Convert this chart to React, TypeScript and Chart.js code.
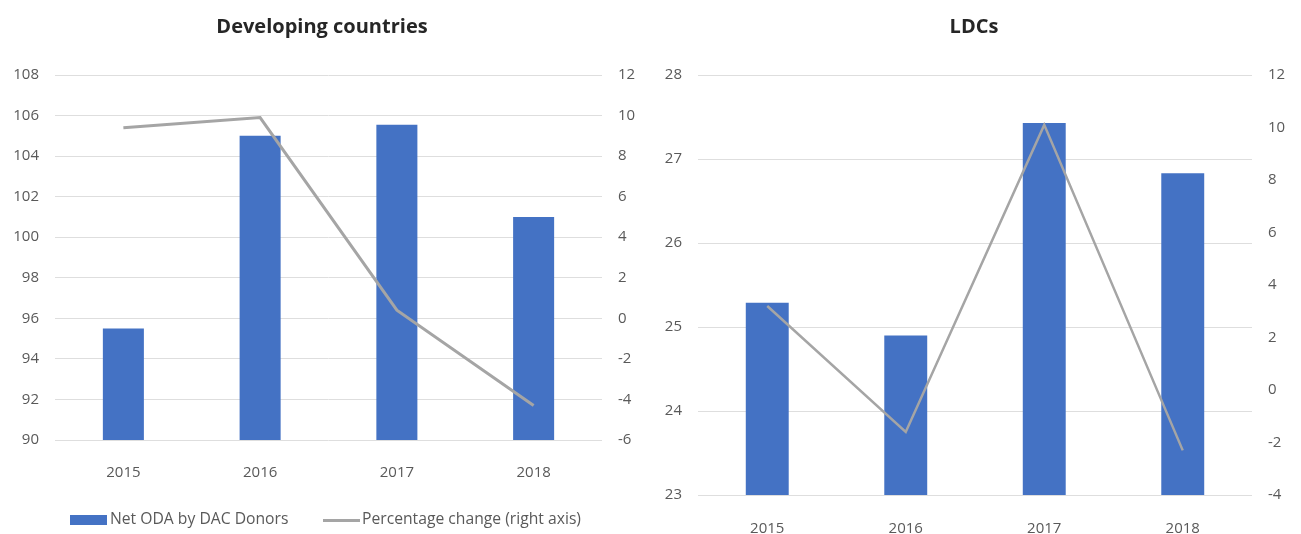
import React, { useEffect, useRef } from "react";
import { Chart, registerables } from "chart.js";

Chart.register(...registerables);

// ---- data ----
const years = ["2015", "2016", "2017", "2018"];

const devOda = [95.5, 105.0, 105.55, 101.0];
const devPct = [9.4, 9.9, 0.4, -4.3];

const ldcOda = [25.29, 24.9, 27.43, 26.83];
const ldcPct = [3.2, -1.6, 10.1, -2.3];

// axis ranges: [min, max, step]
const devLeftAxis = [90, 108, 2];
const devRightAxis = [-6, 12, 2];
const ldcLeftAxis = [23, 28, 1];
const ldcRightAxis = [-4, 12, 2];

const devTitle = "Developing countries";
const ldcTitle = "LDCs";
const barLabel = "Net ODA by DAC Donors";
const lineLabel = "Percentage change (right axis)";

// ---- styles ----
const BLUE = "#4472c4";
const GRAY = "#a5a5a5";
const GRID = "#dedede";
const TEXT = "#595959";
const FONT = "'Open Sans', 'Noto Sans', sans-serif";
const H = 534;

type ChartProps = {
  left: number;
  width: number;
  oda: number[];
  pct: number[];
  leftAxis: number[];
  rightAxis: number[];
  area: { left: number; right: number; top: number; bottom: number };
  xPad: number;
  lineWidth: number;
  barFrac: number;
};

function ComboChart(p: ChartProps) {
  const ref = useRef<HTMLCanvasElement>(null);
  useEffect(() => {
    const W = p.width;
    const tickFont = { family: FONT, size: 15 };
    const chart = new Chart(ref.current as HTMLCanvasElement, {
      type: "bar",
      data: {
        labels: years,
        datasets: [
          {
            type: "line",
            label: lineLabel,
            data: p.pct,
            yAxisID: "y1",
            borderColor: GRAY,
            backgroundColor: GRAY,
            borderWidth: p.lineWidth,
            pointRadius: 0,
            tension: 0,
            order: 0,
          } as any,
          {
            type: "bar",
            label: barLabel,
            data: p.oda,
            yAxisID: "y",
            backgroundColor: BLUE,
            barPercentage: p.barFrac,
            categoryPercentage: 1,
            order: 1,
          } as any,
        ],
      },
      options: {
        responsive: false,
        maintainAspectRatio: false,
        animation: false,
        layout: { padding: { top: p.area.top, left: 0, right: 0, bottom: 0 } },
        plugins: {
          legend: { display: false },
          title: { display: false },
          tooltip: { enabled: false },
        },
        scales: {
          x: {
            grid: { display: false, drawTicks: false },
            border: { display: false },
            ticks: { color: TEXT, font: tickFont, padding: p.xPad },
            afterFit: (s: any) => {
              s.height = H - p.area.bottom;
            },
          },
          y: {
            position: "left",
            min: p.leftAxis[0],
            max: p.leftAxis[1],
            ticks: { stepSize: p.leftAxis[2], color: TEXT, font: tickFont, padding: 16 },
            grid: { color: GRID, lineWidth: 1, drawTicks: false },
            border: { display: false },
            afterFit: (s: any) => {
              s.width = p.area.left;
            },
          },
          y1: {
            position: "right",
            min: p.rightAxis[0],
            max: p.rightAxis[1],
            ticks: { stepSize: p.rightAxis[2], color: TEXT, font: tickFont, padding: 16 },
            grid: { display: false, drawTicks: false },
            border: { display: false },
            afterFit: (s: any) => {
              s.width = W - p.area.right;
            },
          },
        },
      } as any,
    });
    return () => chart.destroy();
  }, []);
  return (
    <canvas
      ref={ref}
      width={p.width}
      height={H}
      style={{ position: "absolute", left: p.left, top: 0, width: p.width, height: H }}
    />
  );
}

const titleStyle = (centerX: number): React.CSSProperties => ({
  position: "absolute",
  left: centerX - 200,
  width: 400,
  top: 12,
  textAlign: "center",
  fontFamily: FONT,
  fontWeight: 700,
  fontSize: 20,
  lineHeight: "27px",
  color: "#262626",
  whiteSpace: "nowrap",
});

const legendText = (left: number): React.CSSProperties => ({
  position: "absolute",
  left,
  top: 508,
  fontFamily: FONT,
  fontSize: 15.7,
  lineHeight: "20px",
  color: TEXT,
  whiteSpace: "nowrap",
});

export default function App() {
  return (
    <div
      style={{
        position: "fixed",
        left: 0,
        top: 0,
        width: 1301,
        height: 534,
        overflow: "hidden",
        background: "#ffffff",
      }}
    >
      <ComboChart
        left={0}
        width={650}
        oda={devOda}
        pct={devPct}
        leftAxis={devLeftAxis}
        rightAxis={devRightAxis}
        area={{ left: 55, right: 602, top: 75, bottom: 440 }}
        xPad={24}
        lineWidth={3}
        barFrac={0.3}
      />
      <ComboChart
        left={650}
        width={651}
        oda={ldcOda}
        pct={ldcPct}
        leftAxis={ldcLeftAxis}
        rightAxis={ldcRightAxis}
        area={{ left: 48, right: 602, top: 75, bottom: 495 }}
        xPad={25}
        lineWidth={2.5}
        barFrac={0.31}
      />
      <div style={titleStyle(322)}>{devTitle}</div>
      <div style={titleStyle(974)}>{ldcTitle}</div>
      <div
        style={{ position: "absolute", left: 70, top: 515, width: 37, height: 10, background: BLUE }}
      />
      <div style={legendText(110)}>{barLabel}</div>
      <div
        style={{ position: "absolute", left: 323, top: 519, width: 37, height: 3, background: GRAY }}
      />
      <div style={legendText(362)}>{lineLabel}</div>
    </div>
  );
}
